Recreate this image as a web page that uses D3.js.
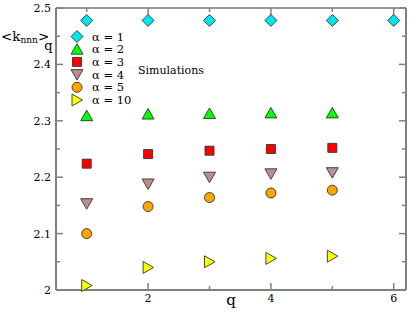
<!DOCTYPE html>
<html>
<head>
<meta charset="utf-8">
<script src="https://cdn.jsdelivr.net/npm/d3@7"></script>
<style>
  body { margin: 0; background: #fff; }
</style>
</head>
<body>
<div id="chart"></div>
<script>
var qValues = [1, 2, 3, 4, 5, 6];
var alpha1 = [2.478, 2.478, 2.478, 2.478, 2.478, 2.478];
var alpha2 = [2.309, 2.312, 2.313, 2.314, 2.314];
var alpha3 = [2.224, 2.241, 2.247, 2.250, 2.252];
var alpha4 = [2.153, 2.188, 2.200, 2.206, 2.208];
var alpha5 = [2.100, 2.148, 2.164, 2.172, 2.177];
var alpha10 = [2.008, 2.040, 2.050, 2.056, 2.060];
var seriesNames = ["\u03b1 = 1", "\u03b1 = 2", "\u03b1 = 3", "\u03b1 = 4", "\u03b1 = 5", "\u03b1 = 10"];
var xTicks = [2, 4, 6];
var yTicks = [2, 2.1, 2.2, 2.3, 2.4, 2.5];

var width = 415, height = 321;
var margin = {top: 8, right: 9, bottom: 31, left: 56};

var svg = d3.select("#chart").append("svg")
    .attr("width", width)
    .attr("height", height)
    .style("font-family", "DejaVu Serif");

var x = d3.scaleLinear().domain([0.5, 6.2]).range([margin.left, width - margin.right]);
var y = d3.scaleLinear().domain([2, 2.5]).range([height - margin.bottom, margin.top]);

var series = [
    {name: seriesNames[0], values: alpha1, shape: "diamond", color: "#00e5ee"},
    {name: seriesNames[1], values: alpha2, shape: "up", color: "#00ff00"},
    {name: seriesNames[2], values: alpha3, shape: "square", color: "#ff0000"},
    {name: seriesNames[3], values: alpha4, shape: "down", color: "#bc8f8f"},
    {name: seriesNames[4], values: alpha5, shape: "circle", color: "#ffa500"},
    {name: seriesNames[5], values: alpha10, shape: "right", color: "#ffff00"}
];

// marker paths centred on 0,0
function markerPath(shape) {
    switch (shape) {
        case "diamond": return "M0,-6L6,0L0,6L-6,0Z";
        case "up": return "M0,-5.5L6,5L-6,5Z";
        case "down": return "M0,5.5L6,-5L-6,-5Z";
        case "right": return "M5.5,0L-5,-6L-5,6Z";
        case "square": return "M-4.5,-4.5H4.5V4.5H-4.5Z";
        case "circle": return "M5,0A5,5 0 1,1 -5,0A5,5 0 1,1 5,0Z";
    }
}

var axisColor = "#808080";
var x0 = x.range()[0], x1 = x.range()[1];
var y0 = y.range()[0], y1 = y.range()[1];

// frame
svg.append("line").attr("x1", x0).attr("x2", x1).attr("y1", y1).attr("y2", y1)
    .attr("stroke", "#333").attr("stroke-width", 1.2);
svg.append("line").attr("x1", x1).attr("x2", x1).attr("y1", y1).attr("y2", y0)
    .attr("stroke", axisColor).attr("stroke-width", 2);
svg.append("line").attr("x1", x0).attr("x2", x0).attr("y1", y1).attr("y2", y0)
    .attr("stroke", axisColor).attr("stroke-width", 2);
svg.append("line").attr("x1", x0).attr("x2", x1).attr("y1", y0).attr("y2", y0)
    .attr("stroke", axisColor).attr("stroke-width", 2);

// ticks (inward)
var ticks = svg.append("g").attr("stroke", axisColor).attr("stroke-width", 1.5);
d3.range(1, 7).forEach(function(q) {
    var len = (q % 2 === 0) ? 7 : 4;
    ticks.append("line").attr("x1", x(q)).attr("x2", x(q)).attr("y1", y0).attr("y2", y0 - len);
    ticks.append("line").attr("x1", x(q)).attr("x2", x(q)).attr("y1", y1).attr("y2", y1 + len);
});
d3.range(0, 11).forEach(function(i) {
    var v = 2 + i * 0.05;
    var len = (i % 2 === 0) ? 7 : 4;
    ticks.append("line").attr("x1", x0).attr("x2", x0 + len).attr("y1", y(v)).attr("y2", y(v));
    ticks.append("line").attr("x1", x1).attr("x2", x1 - len).attr("y1", y(v)).attr("y2", y(v));
});

// tick labels
svg.selectAll(".ylab").data(yTicks).enter().append("text")
    .attr("x", x0 - 5)
    .attr("y", function(d) { return y(d) + 4; })
    .attr("text-anchor", "end")
    .attr("font-size", 11)
    .text(function(d) { return d === 2 ? "2" : d3.format(".1f")(d); });

svg.selectAll(".xlab").data(xTicks).enter().append("text")
    .attr("x", function(d) { return x(d); })
    .attr("y", y0 + 12)
    .attr("text-anchor", "middle")
    .attr("font-size", 11)
    .text(function(d) { return d; });

// axis titles
svg.append("text").attr("x", 231).attr("y", 305).attr("text-anchor", "middle")
    .attr("font-size", 15).text("q");

var yl = svg.append("text").attr("x", 1).attr("y", 41).attr("font-size", 13.5);
yl.append("tspan").text("<k");
yl.append("tspan").attr("font-size", 9).attr("dy", 2).text("nnn");
yl.append("tspan").attr("dy", -2).text(">");
var ylEnd = yl.node().getBBox();
svg.append("text").attr("x", ylEnd.x + ylEnd.width - 5).attr("y", 50)
    .attr("font-size", 13).text("q");

// points
series.forEach(function(s) {
    svg.append("g").selectAll("path").data(s.values).enter().append("path")
        .attr("transform", function(d, i) { return "translate(" + x(qValues[i]) + "," + y(d) + ")"; })
        .attr("d", markerPath(s.shape))
        .attr("fill", s.color)
        .attr("stroke", "#333")
        .attr("stroke-width", 0.9);
});

// legend
var legend = svg.append("g");
series.forEach(function(s, i) {
    var ly = 36.5 + i * 12.7;
    legend.append("path")
        .attr("transform", "translate(77," + ly + ")")
        .attr("d", markerPath(s.shape))
        .attr("fill", s.color)
        .attr("stroke", "#333")
        .attr("stroke-width", 0.9);
    legend.append("text").attr("x", 92).attr("y", ly + 4)
        .attr("font-size", 11.5).text(s.name);
});

svg.append("text").attr("x", 138).attr("y", 74).attr("font-size", 11).text("Simulations");
</script>
</body>
</html>
